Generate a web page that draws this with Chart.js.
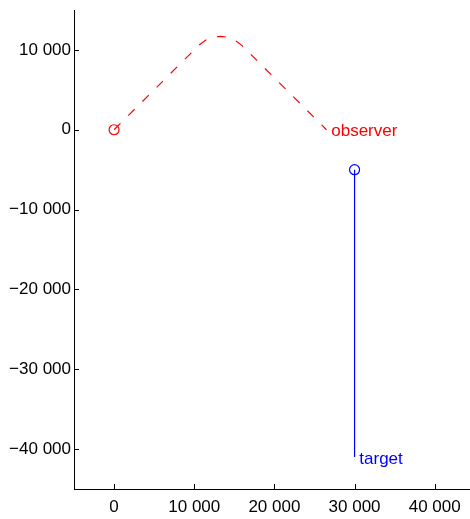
<!DOCTYPE html>
<html>
<head>
<meta charset="utf-8">
<script src="https://cdn.jsdelivr.net/npm/chart.js@4/dist/chart.umd.min.js"></script>
<style>
  html, body { margin: 0; padding: 0; background: #fff; }
</style>
</head>
<body>
<canvas id="chart" width="470" height="519"></canvas>
<script>
// observer path (dashed red)
const observerX = [0, 10600, 11500, 12400, 13250, 14100, 15000, 15900, 26500];
const observerY = [0, 10600, 11265, 11600, 11700, 11600, 11265, 10600, 0];

// target track (solid blue)
const targetX = [30000, 30000];
const targetY = [-5000, -41000];

const xTicks = [0, 10000, 20000, 30000, 40000];
const yTicks = [-40000, -30000, -20000, -10000, 0, 10000];

const labelNames = [" observer", " target"];
const labelColors = ["#ff0000", "#0000ff"];

const fmt = v => {
  const s = Math.abs(v).toString().replace(/\B(?=(\d{3})+(?!\d))/g, " ");
  return v < 0 ? "\u2212" + s : s;
};

const toPts = (xs, ys) => xs.map((x, i) => ({ x: x, y: ys[i] }));

// short inward tick marks + text labels at path ends
const extras = {
  id: "extras",
  afterDraw(chart) {
    const ctx = chart.ctx;
    const xs = chart.scales.x, ys = chart.scales.y;
    const a = chart.chartArea;
    ctx.save();
    ctx.strokeStyle = "#000";
    ctx.lineWidth = 1;
    ctx.beginPath();
    xTicks.forEach(v => {
      const px = Math.round(xs.getPixelForValue(v)) + 0.5;
      ctx.moveTo(px, a.bottom);
      ctx.lineTo(px, a.bottom - 5);
    });
    yTicks.forEach(v => {
      const py = Math.round(ys.getPixelForValue(v)) + 0.5;
      ctx.moveTo(a.left, py);
      ctx.lineTo(a.left + 5, py);
    });
    ctx.stroke();

    ctx.font = "17px 'Liberation Sans', Arial, sans-serif";
    ctx.textBaseline = "middle";
    ctx.textAlign = "left";
    const ends = [
      [observerX[observerX.length - 1], observerY[observerY.length - 1]],
      [targetX[targetX.length - 1], targetY[targetY.length - 1]],
    ];
    ends.forEach((p, i) => {
      ctx.fillStyle = labelColors[i];
      ctx.fillText(labelNames[i], xs.getPixelForValue(p[0]), ys.getPixelForValue(p[1]) + 2);
    });
    ctx.restore();
  },
};

const keepTicks = list => scale => {
  scale.ticks = list.map(v => ({ value: v }));
};

new Chart(document.getElementById("chart").getContext("2d"), {
  type: "scatter",
  data: {
    datasets: [
      {
        data: toPts(observerX, observerY),
        showLine: true,
        borderColor: "#ff0000",
        borderWidth: 1.2,
        borderDash: [9, 11],
        pointRadius: 0,
        tension: 0,
      },
      {
        data: toPts(targetX, targetY),
        showLine: true,
        borderColor: "#0000ff",
        borderWidth: 1.2,
        pointRadius: 0,
      },
      {
        data: toPts(observerX.slice(0, 1), observerY.slice(0, 1)),
        pointRadius: 5,
        pointBorderColor: "#ff0000",
        pointBackgroundColor: "rgba(0,0,0,0)",
        pointBorderWidth: 1.2,
      },
      {
        data: toPts(targetX.slice(0, 1), targetY.slice(0, 1)),
        pointRadius: 5,
        pointBorderColor: "#0000ff",
        pointBackgroundColor: "rgba(0,0,0,0)",
        pointBorderWidth: 1.2,
      },
    ],
  },
  options: {
    responsive: false,
    devicePixelRatio: 1,
    animation: false,
    layout: { autoPadding: false, padding: { top: 10, right: 0, left: 0, bottom: 0 } },
    plugins: {
      legend: { display: false },
      tooltip: { enabled: false },
    },
    scales: {
      x: {
        type: "linear",
        min: -5000,
        max: 44400,
        afterBuildTicks: keepTicks(xTicks),
        afterFit: s => {
          s.height = 30;
          s.paddingLeft = 0;
          s.paddingRight = 0;
        },
        grid: { display: false, drawTicks: false, tickLength: 0 },
        border: { display: true, color: "#000", width: 1 },
        ticks: {
          color: "#000",
          padding: 8,
          maxRotation: 0,
          font: { family: "'Liberation Sans', Arial, sans-serif", size: 17 },
          callback: v => fmt(v),
        },
      },
      y: {
        type: "linear",
        min: -45000,
        max: 15000,
        afterBuildTicks: keepTicks(yTicks),
        afterFit: s => {
          s.width = 74;
          s.paddingTop = 0;
          s.paddingBottom = 0;
        },
        grid: { display: false, drawTicks: false, tickLength: 0 },
        border: { display: true, color: "#000", width: 1 },
        ticks: {
          color: "#000",
          padding: 3,
          font: { family: "'Liberation Sans', Arial, sans-serif", size: 17 },
          callback: v => fmt(v),
        },
      },
    },
  },
  plugins: [extras],
});
</script>
</body>
</html>
